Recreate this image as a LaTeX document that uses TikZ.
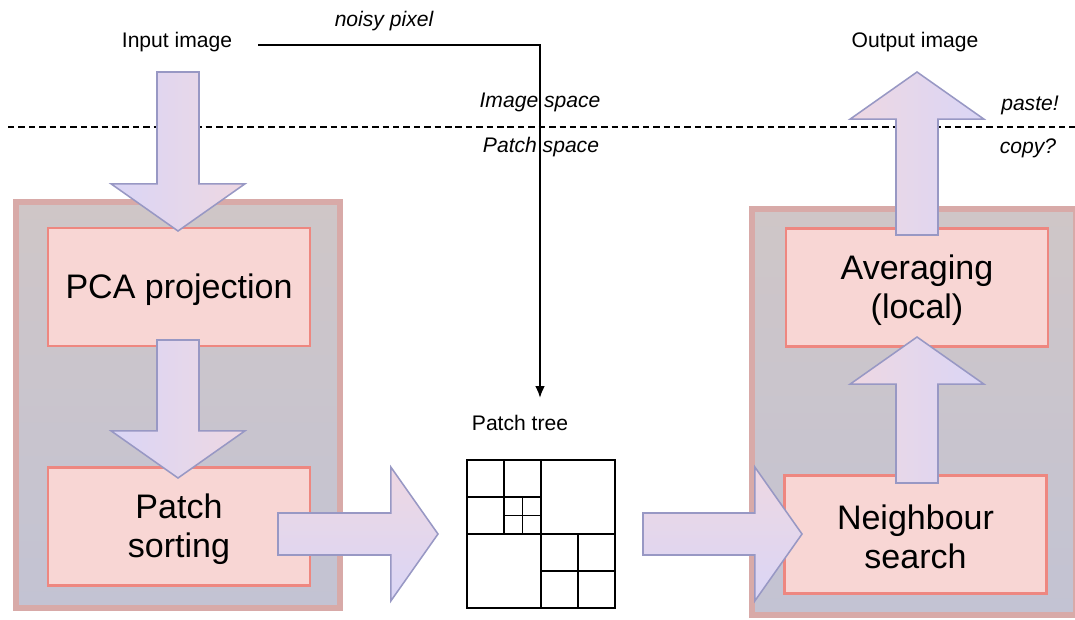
\documentclass[tikz,border=0pt]{standalone}
\usepackage{fontspec}
\setmainfont{Liberation Sans}
\usetikzlibrary{calc, shadows, arrows.meta}

\definecolor{boxfill}{RGB}{248,214,212}
\definecolor{boxline}{RGB}{238,135,128}
\definecolor{stagetop}{RGB}{207,198,199}
\definecolor{stagebot}{RGB}{195,195,211}
\definecolor{stageline}{RGB}{216,170,168}
\definecolor{lav}{RGB}{218,214,246}
\definecolor{rose}{RGB}{238,215,226}
\definecolor{arrline}{RGB}{152,152,196}

% a taller first line sets the box text a little lower
\newcommand\tstrut{\rule{0pt}{21.5pt}}

\tikzset{
  ba shaft/.store in=\bashaft, ba head/.store in=\bahead, ba len/.store in=\balen,
  ba shaft=0.525cm, ba head=1.675cm, ba len=1.18cm,
}

\begin{document}
\begin{tikzpicture}[
    x=0.025cm, y=-0.025cm,
    stagebox/.style={draw=stageline, line width=4.5pt, top color=stagetop, bottom color=stagebot,
      drop shadow={opacity=0.18, shadow xshift=1.5pt, shadow yshift=-1.5pt}},
    box/.style={rectangle, draw=boxline, fill=boxfill, line width=1.5pt,
      minimum width=6.55cm, minimum height=2.95cm, align=center,
      font=\fontsize{24.2}{27.7}\selectfont},
    lbl/.style={anchor=base, font=\fontsize{15}{18}\selectfont, inner sep=0pt},
    side/.style={lbl, font=\fontsize{15}{18}\selectfont\itshape},
    bigarrow/.style={draw=arrline, line width=1.1pt, line join=miter,
      to path={let \p1=(\tikztostart), \p2=(\tikztotarget),
        \n1={atan2(\y2-\y1,\x2-\x1)} in
        ($(\p1)+(\n1+90:\bashaft)$)
        -- ($(\p2)+(\n1+180:\balen)+(\n1+90:\bashaft)$)
        -- ($(\p2)+(\n1+180:\balen)+(\n1+90:\bahead)$)
        -- (\p2)
        -- ($(\p2)+(\n1+180:\balen)+(\n1-90:\bahead)$)
        -- ($(\p2)+(\n1+180:\balen)+(\n1-90:\bashaft)$)
        -- ($(\p1)+(\n1-90:\bashaft)$) -- cycle}},
    godown/.style={bigarrow, left color=lav, right color=rose},
    goright/.style={bigarrow, top color=rose, bottom color=lav},
    goup/.style={bigarrow, left color=rose, right color=lav},
    tree/.style={line width=1.4pt, line cap=rect},
  ]
    \useasboundingbox (0,0) rectangle (1075,619);

    % the two processing stages
    \node[stagebox, minimum width=8.09cm, minimum height=10.14cm] (prep) at (178,405) {};
    \node[stagebox, minimum width=8.09cm, minimum height=10.14cm] (post) at (914,412) {};

    \node[box] (pca)    at (179,287)   {\tstrut PCA projection};
    \node[box] (sort)   at (179,526.5) {\tstrut Patch\\sorting};
    \node[box] (avg)    at (917,287.5) {\tstrut Averaging\\(local)};
    \node[box] (search) at (915.5,534.5) {\tstrut Neighbour\\search};

    % image space / patch space
    \draw[dash pattern=on 4.6pt off 2.8pt, line width=0.9pt] (8,127) -- (1075,127);
    \node[side] (imgsp)   at (540,107)  {Image space};
    \node[side] (patchsp) at (541,152)  {Patch space};
    \node[side] (paste)   at (1030,110) {paste!};
    \node[side] (copy)    at (1028,153) {copy?};

    \node[lbl] (inlbl)   at (177,47)  {Input image};
    \node[lbl] (outlbl)  at (915,47)  {Output image};
    \node[lbl] (treelbl) at (520,430) {Patch tree};
    \node[side] (noisylbl) at (384,26) {noisy pixel};

    \coordinate (noisy) at (258,45);
    \coordinate (probe) at (540,398);
    \draw[line width=1.5pt, -{Latex[length=8.5pt, width=7pt]}] (noisy) -| (probe);

    % quadtree of patches
    \begin{scope}[shift={(541,534)}]
      \draw[tree] (-74,-74) rectangle (74,74);
      \draw[tree] (0,-74) -- (0,74) (-74,0) -- (74,0);
      \draw[tree] (-37,-74) -- (-37,0) (-74,-37) -- (0,-37);
      \draw[tree] (-18.5,-37) -- (-18.5,0) (-37,-18.5) -- (0,-18.5);
      \draw[tree] (37,0) -- (37,74) (0,37) -- (74,37);
    \end{scope}

    % data flow
    \coordinate (a1) at (178,72);   \coordinate (b1) at (178,231);
    \coordinate (a2) at (178,340);  \coordinate (b2) at (178,478);
    \coordinate (a3) at (278,534);  \coordinate (b3) at (438,534);
    \coordinate (a4) at (643,534);  \coordinate (b4) at (802,534);
    \coordinate (a5) at (917,483);  \coordinate (b5) at (917,337);
    \coordinate (a6) at (917,235);  \coordinate (b6) at (917,72);
    \draw[godown]  (a1) to (b1);
    \draw[godown]  (a2) to (b2);
    \draw[goright] (a3) to (b3);
    \draw[goright] (a4) to (b4);
    \draw[goup]    (a5) to (b5);
    \draw[goup]    (a6) to (b6);
  \end{tikzpicture}
\end{document}
